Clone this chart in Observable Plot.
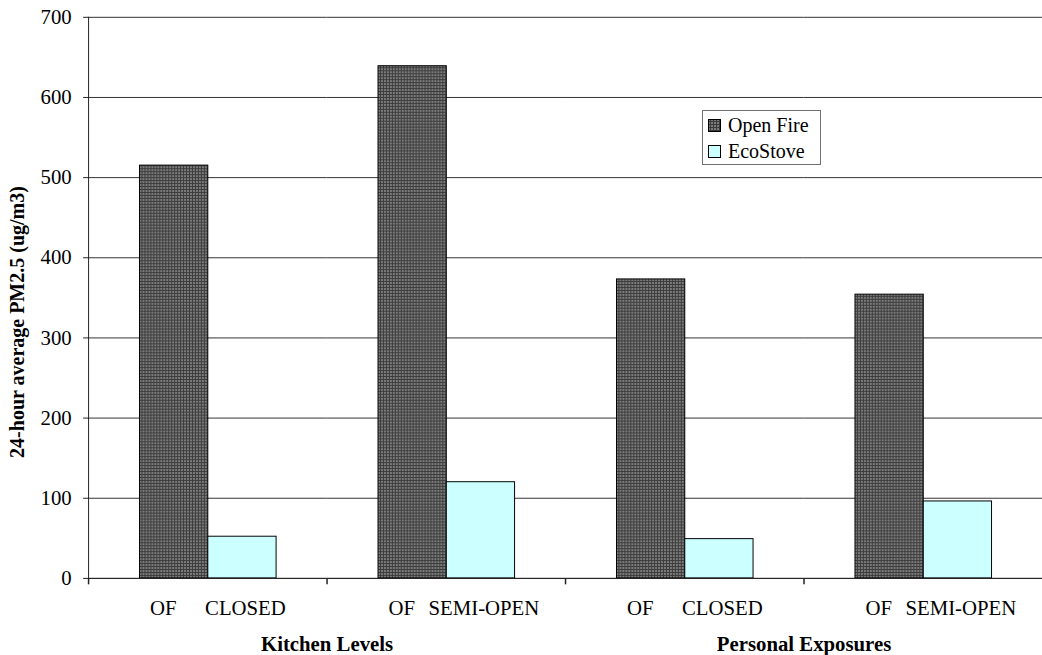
<!DOCTYPE html>
<html><head><meta charset="utf-8">
<script src="https://cdn.jsdelivr.net/npm/d3@7"></script>
<script src="https://cdn.jsdelivr.net/npm/@observablehq/plot@0.6"></script>
<style>
html,body{margin:0;padding:0;overflow:hidden;background:#fff;width:1042px;height:655px}
#wrap{position:relative;width:1042px;height:655px;overflow:hidden;font-family:'Liberation Serif','Times New Roman',serif;color:#000}
#ylabel{position:absolute;left:17px;top:322px;transform:translate(-50%,-50%) rotate(-90deg);white-space:nowrap;font-weight:bold;font-size:20px}
#legend{position:absolute;left:702px;top:110px;width:119px;height:55px;border:1px solid #707070;background:#fff;font-size:20px;box-sizing:border-box}
#legend .row{position:absolute;left:5px;display:flex;align-items:center;height:24px}
#legend .sw{width:13px;height:13px;margin-right:7px;display:block}
</style></head><body><div id="wrap"><div id="ylabel">24-hour average PM2.5 (ug/m3)</div></div>
<script>
const groups = ["Kitchen CLOSED", "Kitchen SEMI-OPEN", "Personal CLOSED", "Personal SEMI-OPEN"];
const stoveTypes = ["CLOSED", "SEMI-OPEN", "CLOSED", "SEMI-OPEN"];
const series = ["Open Fire", "EcoStove"];
const seriesShort = ["OF", null];
const openFire = [515, 639, 373, 354];
const ecoStove = [52, 120, 49, 96];
const measureLabels = ["Kitchen Levels", "Personal Exposures"];
const measureGroups = [groups[0], groups[2]];
const yTicks = [0, 100, 200, 300, 400, 500, 600, 700];

const data = groups.flatMap((g, i) => [
  {group: g, series: series[0], value: openFire[i], label: seriesShort[0]},
  {group: g, series: series[1], value: ecoStove[i], label: stoveTypes[i]}
]);
const measures = measureLabels.map((m, i) => ({group: measureGroups[i], label: m}));

const tickSymbol = {draw(ctx) { ctx.moveTo(0, 0); ctx.lineTo(0, 6); }};

const chart = Plot.plot({
  width: 1053, height: 655,
  marginLeft: 89, marginRight: 0, marginTop: 17, marginBottom: 71,
  style: {fontFamily: "'Liberation Serif','Times New Roman',serif", fontSize: "21px", color: "#000", background: "#fff", overflow: "visible"},
  fx: {domain: groups, axis: null, padding: 0},
  x: {domain: series, axis: null, paddingInner: 0, paddingOuter: 0.746},
  y: {domain: [0, 700]},
  color: {domain: series, range: ["url(#ofPattern)", "#ccffff"]},
  marks: [
    Plot.gridY(yTicks, {stroke: "#333", strokeOpacity: 1}),
    Plot.barY(data, {fx: "group", x: "series", y: "value", fill: "series", stroke: "#000", strokeWidth: 1}),
    Plot.ruleY([0], {stroke: "#222"}),
    Plot.frame({anchor: "left", facetAnchor: "left", stroke: "#222"}),
    Plot.axisY(yTicks, {tickSize: 5, tickPadding: 12, label: null, fontSize: 21, stroke: "#222"}),
    Plot.dot(groups, {fx: d => d, frameAnchor: "bottom-left", symbol: tickSymbol, fill: "none", stroke: "#222", r: 3}),
    Plot.text(data.filter(d => d.series === series[0]), {fx: "group", x: "series", text: "label", frameAnchor: "bottom", dy: 37, dx: -11, fontSize: 21}),
    Plot.text(data.filter(d => d.series === series[1]), {fx: "group", x: "series", text: "label", frameAnchor: "bottom", dy: 37, dx: 3, fontSize: 21}),
    Plot.text(measures, {fx: "group", text: "label", frameAnchor: "bottom-right", textAnchor: "middle", dy: 73, fontSize: 21, fontWeight: "bold"})
  ]
});

const svgNS = "http://www.w3.org/2000/svg";
const defs = document.createElementNS(svgNS, "defs");
defs.innerHTML = '<pattern id="ofPattern" width="3" height="3" patternUnits="userSpaceOnUse"><rect width="3" height="3" fill="#3c3c3c"/><rect width="2" height="2" fill="#7c7c7c"/></pattern>';
chart.insertBefore(defs, chart.firstChild);

const wrap = document.getElementById("wrap");
wrap.insertBefore(chart, wrap.firstChild);

const legend = document.createElement("div");
legend.id = "legend";
const swFill = ["url(#ofPattern)", "#ccffff"];
series.forEach((s, i) => {
  const row = document.createElement("div");
  row.className = "row";
  row.style.top = (2 + i * 26) + "px";
  row.innerHTML = `<svg class="sw" width="13" height="13"><rect x="0.5" y="0.5" width="12" height="12" fill="${swFill[i]}" stroke="#000"/></svg><span>${s}</span>`;
  legend.appendChild(row);
});
wrap.appendChild(legend);
</script>
</body></html>
